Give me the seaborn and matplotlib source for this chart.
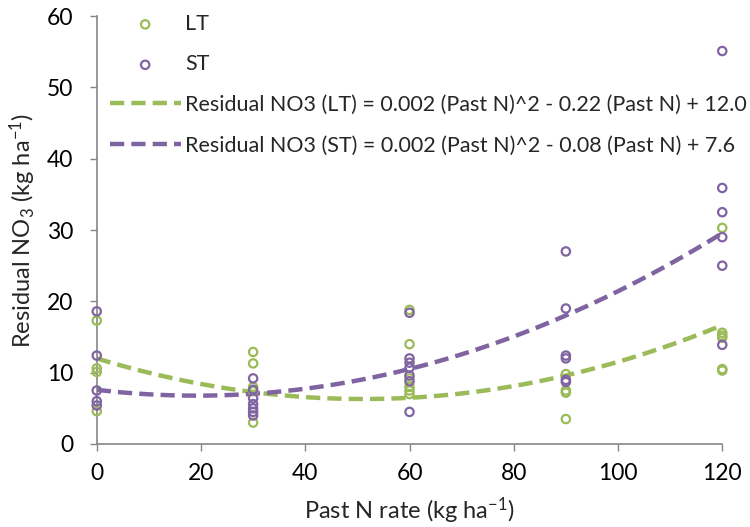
import numpy as np
import pandas as pd
import matplotlib
matplotlib.use("Agg")
import matplotlib.pyplot as plt
import seaborn as sns

# ---- data ----
lt_x = [0, 0, 0, 0,
        30, 30, 30, 30, 30,
        60, 60, 60, 60, 60, 60,
        90, 90, 90, 90,
        120, 120, 120, 120, 120, 120]
lt_y = [17.3, 10.6, 10.1, 4.6,
        12.9, 11.3, 8.0, 7.4, 3.0,
        18.8, 14.0, 9.2, 8.0, 7.5, 7.0,
        9.8, 7.5, 7.2, 3.5,
        30.3, 15.6, 15.2, 14.9, 10.5, 10.3]

st_x = [0, 0, 0, 0, 0,
        30, 30, 30, 30, 30, 30, 30,
        60, 60, 60, 60, 60, 60, 60,
        90, 90, 90, 90, 90, 90,
        120, 120, 120, 120, 120, 120]
st_y = [18.6, 12.4, 7.5, 6.0, 5.4,
        9.2, 7.6, 6.4, 5.6, 5.0, 4.5, 4.0,
        18.4, 12.0, 11.4, 10.7, 9.6, 8.8, 4.5,
        27.0, 19.0, 12.4, 12.0, 9.0, 8.7,
        55.1, 35.9, 32.5, 29.0, 25.0, 13.9]

# quadratic trend coefficients (a, b, c) for a*x^2 + b*x + c
lt_coef = [0.00218, -0.2228, 12.0]
st_coef = [0.00224, -0.0858, 7.6]
lt_label = "Residual NO3 (LT) = 0.002 (Past N)^2 - 0.22 (Past N) + 12.0"
st_label = "Residual NO3 (ST) = 0.002 (Past N)^2 - 0.08 (Past N) + 7.6"

x_ticks = [0, 20, 40, 60, 80, 100, 120]
y_ticks = [0, 10, 20, 30, 40, 50, 60]

GREEN = "#9BBB59"
PURPLE = "#8064A2"
GRAY = "#868686"

sns.set_theme(style="white")
plt.rcParams["font.family"] = ["Lato", "DejaVu Sans"]
plt.rcParams["mathtext.default"] = "regular"

fig = plt.figure(figsize=(7.5, 5.27), dpi=100)
ax = fig.add_axes([0.129, 0.1575, 0.834, 0.812])

df_lt = pd.DataFrame({"x": lt_x, "y": lt_y})
df_st = pd.DataFrame({"x": st_x, "y": st_y})

sns.scatterplot(data=df_lt, x="x", y="y", ax=ax, s=36, facecolor="none",
                edgecolor=GREEN, linewidth=1.6, label="LT", clip_on=False, zorder=3)
sns.scatterplot(data=df_st, x="x", y="y", ax=ax, s=36, facecolor="none",
                edgecolor=PURPLE, linewidth=1.6, label="ST", clip_on=False, zorder=3)

xs = np.linspace(0, 120, 200)
lt_fit = np.polyval(lt_coef, xs)
st_fit = np.polyval(st_coef, xs)
sns.lineplot(x=xs, y=lt_fit, ax=ax, color=GREEN, linewidth=3.2,
             label=lt_label, zorder=2)
sns.lineplot(x=xs, y=st_fit, ax=ax, color=PURPLE, linewidth=3.2,
             label=st_label, zorder=2)
for l in ax.get_lines():
    l.set_dashes((3.2, 1.6))

ax.set_xlim(0, 120)
ax.set_ylim(0, 60)
ax.set_xticks(x_ticks)
ax.set_yticks(y_ticks)
ax.tick_params(axis="both", labelsize=16.5, colors=GRAY, labelcolor="black",
               length=5, width=1, direction="out", bottom=True, left=True)
ax.tick_params(axis="y", pad=12)
ax.tick_params(axis="x", pad=9)
for side in ["top", "right"]:
    ax.spines[side].set_visible(False)
for side in ["left", "bottom"]:
    ax.spines[side].set_color(GRAY)
    ax.spines[side].set_linewidth(1.2)

ax.set_xlabel("Past N rate (kg ha$^{-1}$)", fontsize=17, labelpad=8)
ax.set_ylabel("Residual NO$_3$ (kg ha$^{-1}$)", fontsize=17, labelpad=6)

leg = ax.legend(loc="upper left", bbox_to_anchor=(0.0, 1.035), frameon=False,
                fontsize=15.5, handlelength=3.3, handletextpad=0.2,
                labelspacing=0.95, borderaxespad=0.2)

fig.savefig("out.png", dpi=100, facecolor="white")
